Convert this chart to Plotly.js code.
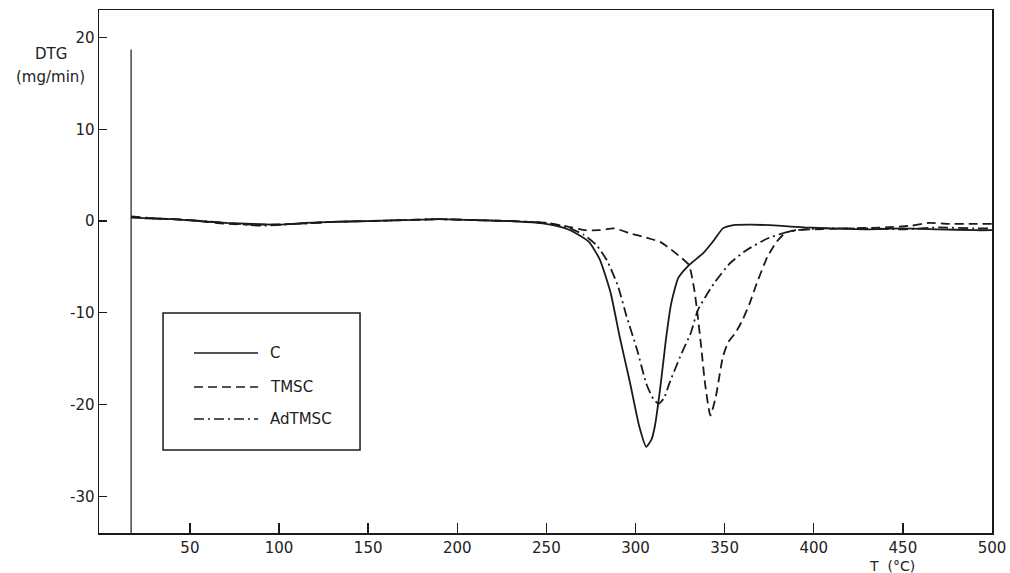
<!DOCTYPE html>
<html>
<head>
<meta charset="utf-8">
<script src="https://cdn.plot.ly/plotly-3.0.1.min.js"></script>
<style>html,body{margin:0;padding:0;background:#fff;}#chart{width:1010px;height:573px;}</style>
</head>
<body>
<div id="chart"></div>
<script>
// ---- data ----
const seriesNames = ["C", "TMSC", "AdTMSC"];

const tC = [17, 25, 40, 55, 70, 85, 100, 115, 130, 150, 170, 190, 210, 230, 245, 255, 262, 268, 274, 280, 286, 291, 297, 302, 306, 309, 311, 314, 317, 320, 324, 330, 338, 344, 349, 355, 365, 380, 395, 410, 430, 450, 470, 490, 500];
const yC = [0.4, 0.3, 0.2, 0.0, -0.2, -0.3, -0.4, -0.2, -0.1, 0.0, 0.1, 0.2, 0.1, 0.0, -0.2, -0.5, -0.9, -1.5, -2.3, -4.2, -7.8, -12.5, -17.7, -22.3, -24.6, -23.8, -22.2, -18.0, -13.0, -9.0, -6.2, -4.8, -3.5, -2.1, -0.8, -0.45, -0.4, -0.5, -0.7, -0.8, -0.9, -0.8, -0.9, -1.0, -1.0];

const tTMSC = [17, 30, 50, 70, 90, 110, 130, 150, 170, 190, 210, 230, 250, 262, 272, 280, 288, 298, 306, 314, 320, 325, 330, 333, 335, 337, 339, 342, 345, 349, 352, 356, 360, 364, 368, 374, 379, 384, 390, 400, 420, 440, 455, 465, 475, 490, 500];
const yTMSC = [0.5, 0.3, 0.1, -0.3, -0.4, -0.3, -0.1, 0.0, 0.1, 0.2, 0.1, 0.0, -0.2, -0.6, -1.0, -1.0, -0.8, -1.4, -1.8, -2.3, -3.1, -3.9, -4.8, -7.5, -10.5, -14.0, -17.7, -21.2, -19.2, -14.8, -13.2, -12.2, -10.8, -9.0, -6.8, -3.9, -2.3, -1.3, -1.0, -0.9, -0.8, -0.7, -0.5, -0.2, -0.3, -0.3, -0.3];

const tAd = [17, 30, 50, 70, 90, 110, 130, 150, 170, 190, 210, 230, 250, 262, 271, 278, 284, 290, 295, 301, 306, 310, 313, 316, 319, 325, 331, 335, 344, 353, 362, 374, 385, 395, 410, 430, 450, 470, 490, 500];
const yAd = [0.4, 0.3, 0.1, -0.2, -0.5, -0.3, -0.1, 0.0, 0.1, 0.2, 0.1, 0.0, -0.2, -0.7, -1.5, -2.6, -4.3, -7.0, -10.4, -14.1, -17.7, -19.4, -19.9, -19.3, -17.7, -14.8, -12.2, -9.7, -6.8, -4.6, -3.2, -1.9, -1.2, -0.9, -0.8, -0.8, -0.9, -0.7, -0.8, -0.8];

// recorder start mark
const tStart = [17, 17];
const yStart = [-34, 18.7];

const xTicks = [50, 100, 150, 200, 250, 300, 350, 400, 450, 500];
const yTicks = [-30, -20, -10, 0, 10, 20];

// ---- plot ----
const ink = "#1a1a1a";
const dashes = ["solid", "9px,5px", "10px,4px,2px,4px"];
const font = {family: "DejaVu Sans, sans-serif", size: 15, color: "#222"};
const labelFont = {family: "DejaVu Sans, sans-serif", size: 15, color: "#222"};
const unitFont = {family: "DejaVu Sans, sans-serif", size: 14, color: "#222"};

const traces = [
  {x: tC, y: yC, name: seriesNames[0], mode: "lines", line: {color: ink, width: 1.8, dash: dashes[0], shape: "spline", smoothing: 0.5}},
  {x: tTMSC, y: yTMSC, name: seriesNames[1], mode: "lines", line: {color: ink, width: 1.8, dash: dashes[1], shape: "spline", smoothing: 0.5}},
  {x: tAd, y: yAd, name: seriesNames[2], mode: "lines", line: {color: ink, width: 1.8, dash: dashes[2], shape: "spline", smoothing: 0.5}},
  {x: tStart, y: yStart, name: "start", mode: "lines", line: {color: ink, width: 1.2}, showlegend: false}
];

// manual legend box (paper coords)
const legX0 = 0.0717, legX1 = 0.2923, legY0 = 0.1587, legY1 = 0.4207;
const legLineX = [0.1064, 0.1781];
const legRowY = [0.3442, 0.2792, 0.2180];
const shapes = [
  {type: "rect", xref: "paper", yref: "paper", x0: legX0, x1: legX1, y0: legY0, y1: legY1, line: {color: ink, width: 1.5}, fillcolor: "rgba(0,0,0,0)"}
];
const annotations = [
  {xref: "paper", yref: "paper", x: -0.054, y: 0.915, text: "DTG", showarrow: false, xanchor: "center", yanchor: "middle", font: labelFont},
  {xref: "paper", yref: "paper", x: -0.054, y: 0.872, text: "(mg/min)", showarrow: false, xanchor: "center", yanchor: "middle", font: labelFont},
  {xref: "paper", yref: "paper", x: 0.888, y: -0.0635, text: "T  (°C)", showarrow: false, xanchor: "center", yanchor: "middle", font: unitFont}
];
seriesNames.forEach((nm, i) => {
  shapes.push({type: "line", xref: "paper", yref: "paper", x0: legLineX[0], x1: legLineX[1], y0: legRowY[i], y1: legRowY[i], line: {color: ink, width: 1.6, dash: dashes[i]}});
  annotations.push({xref: "paper", yref: "paper", x: 0.1893, y: legRowY[i], text: nm, showarrow: false, xanchor: "left", yanchor: "middle", font: labelFont});
});

const layout = {
  width: 1010, height: 573,
  margin: {l: 99, r: 18, t: 10, b: 40, pad: 0},
  paper_bgcolor: "#fff", plot_bgcolor: "#fff",
  showlegend: false,
  font: font,
  xaxis: {range: [-1, 500], tickvals: xTicks, ticktext: xTicks.map(String), ticks: "inside", ticklen: 10, tickwidth: 1.3, tickcolor: ink,
          showline: true, linecolor: ink, linewidth: 1.5, mirror: true, showgrid: false, zeroline: false, tickfont: font},
  yaxis: {range: [-34, 23], tickvals: yTicks, ticktext: yTicks.map(String), ticks: "inside", ticklen: 8, tickwidth: 1.3, tickcolor: ink,
          showline: true, linecolor: ink, linewidth: 1.5, mirror: true, showgrid: false, zeroline: false, tickfont: font},
  shapes: shapes,
  annotations: annotations
};

Plotly.newPlot("chart", traces, layout, {displayModeBar: false, staticPlot: true});
</script>
</body>
</html>
